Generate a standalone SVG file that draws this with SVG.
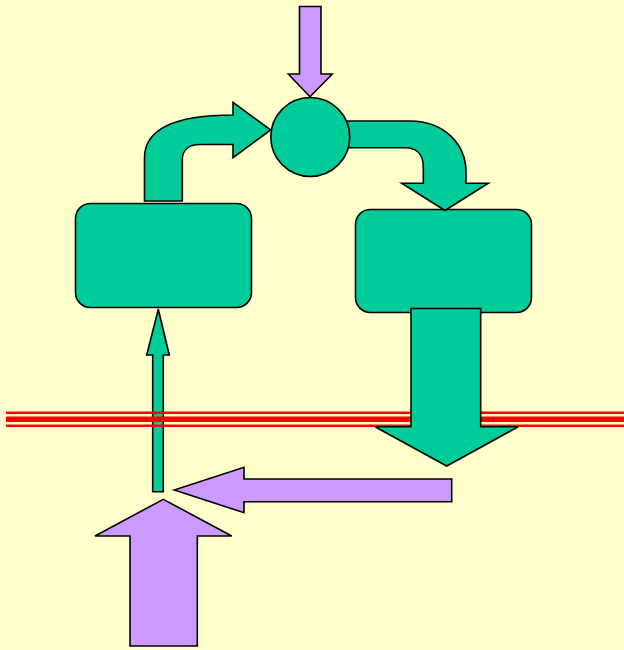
<svg xmlns="http://www.w3.org/2000/svg" width="624" height="650" viewBox="0 0 624 650">
  <style>
    .g { fill: #00CC99; stroke: #000; stroke-width: 1.6; stroke-linejoin: miter; }
    .p { fill: #CC99FF; stroke: #000; stroke-width: 1.6; stroke-linejoin: miter; }
    .red { stroke: #FF0000; fill: none; }
  </style>
  <rect x="0" y="0" width="624" height="650" fill="#FFFFCC"/>

  <!-- boxes -->
  <g id="box-left">
    <rect class="g" x="75.5" y="203.5" width="176" height="104" rx="15" ry="15"/>
  </g>
  <g id="box-right">
    <rect class="g" x="355.5" y="209.5" width="176" height="103" rx="15" ry="15"/>
  </g>

  <g id="connectors">
    <!-- curved arrow from left box up into the junction -->
    <path class="g" d="M144.5,201 V158 C144.5,128 176,115 233,115 V102.3 L270.7,130 L233,157.7 V144.5 H200 C189,144.5 182.3,150 182.3,160 V201 Z"/>
    <!-- curved arrow from the junction down into right box -->
    <path class="g" d="M340,121 H410 C445,121 466,145 466,172 V183.3 H488.3 L445,210.5 L401.7,183.3 H423.3 V167 C423.3,154 416,147.7 405,147.7 H340 Z"/>
    <!-- thin arrow up into left box -->
    <path class="g" d="M152.7,491.7 V355 H146.7 L158.3,309.3 L169.3,355 H163.3 V491.7 Z"/>
    <!-- purple input from the top -->
    <path class="p" d="M299.5,6.5 H321 V74 H332.3 L310,96.7 L288.3,74 H299.5 Z"/>
    <!-- purple arrow pointing left -->
    <path class="p" d="M451.7,479 V501.7 H244 V512.7 L174.3,490 L244,467.3 V479 Z"/>
    <!-- purple input from the bottom -->
    <path class="p" d="M130,646 V536 H95 L163.3,499.3 L231.7,536 H197.3 V646 Z"/>
  </g>

  <!-- triple red line -->
  <g id="membrane">
    <line class="red" x1="6" y1="412.8" x2="624" y2="412.8" stroke-width="2.6"/>
    <line class="red" x1="6" y1="419.2" x2="624" y2="419.2" stroke-width="5.4"/>
    <line class="red" x1="6" y1="425.8" x2="624" y2="425.8" stroke-width="2.6"/>
  </g>

  <!-- big output arrow crossing the line -->
  <g id="output-arrow">
    <path class="g" d="M411,308.5 H480.7 V426.7 H518.3 L446.7,466 L375,426.7 H411 Z"/>
  </g>

  <!-- junction circle -->
  <g id="junction">
    <circle class="g" cx="310.3" cy="137" r="39.5"/>
  </g>
</svg>
